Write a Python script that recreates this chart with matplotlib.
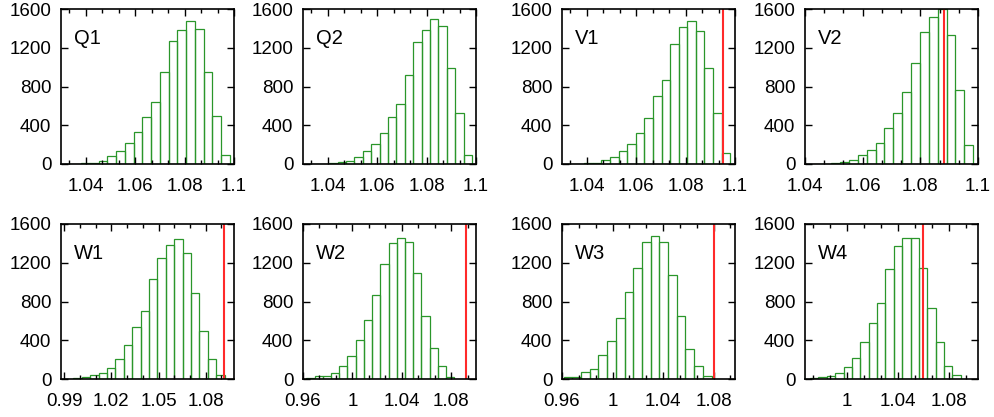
import numpy as np
import matplotlib.pyplot as plt
from matplotlib.ticker import FixedLocator, AutoMinorLocator, FormatStrFormatter

plt.rcParams['font.family'] = ['Liberation Sans', 'DejaVu Sans']
plt.rcParams['font.size'] = 13

# counts per bin, left edge of the first bin, bin width
q1_counts = [2, 3, 8, 12, 34, 79, 131, 217, 327, 485, 640, 950, 1266, 1386, 1479, 1393, 949, 492, 96]
q1_start, q1_width = 1.0311, 0.00354
q2_counts = [1, 2, 3, 7, 20, 34, 76, 138, 206, 320, 482, 619, 915, 1256, 1386, 1496, 1428, 991, 526, 96]
q2_start, q2_width = 1.0304, 0.0034
v1_counts = [1, 3, 7, 14, 41, 72, 131, 206, 320, 475, 698, 870, 1238, 1410, 1479, 1369, 991, 526, 113]
v1_start, v1_width = 1.0321, 0.00347
v2_counts = [1, 3, 7, 17, 41, 89, 141, 217, 371, 526, 743, 1042, 1362, 1517, 1600, 1328, 760, 193]
v2_start, v2_width = 1.0429, 0.00308
w1_counts = [3, 10, 21, 41, 62, 113, 206, 354, 532, 697, 1030, 1245, 1383, 1441, 1297, 885, 491, 206, 45]
w1_start, w1_width = 0.9906, 0.00534
w2_counts = [10, 27, 34, 62, 130, 240, 398, 611, 864, 1187, 1407, 1451, 1410, 1092, 655, 319, 137, 21]
w2_start, w2_width = 0.9628, 0.00664
w3_counts = [25, 22, 69, 106, 250, 388, 628, 903, 1143, 1418, 1476, 1410, 1074, 652, 309, 137, 27]
w3_start, w3_width = 0.9613, 0.00689
w4_counts = [10, 21, 27, 62, 124, 216, 381, 577, 783, 1133, 1373, 1451, 1451, 1143, 738, 381, 137, 38]
w4_start, w4_width = 0.971, 0.00656

# reference values (red lines)
v1_ref = 1.095
v2_ref = 1.0881
w1_ref = 1.0914
w2_ref = 1.0916
w3_ref = 1.0805
w4_ref = 1.0597

# axis ranges and tick labels
q_xlim = (1.03, 1.1)
q_ticks = [1.04, 1.06, 1.08, 1.1]
v2_xlim = (1.04, 1.1)
w1_xlim = (0.988, 1.098)
w1_ticks = [0.99, 1.02, 1.05, 1.08]
w2_xlim = (0.96, 1.1)
w3_xlim = (0.96, 1.097)
w_ticks = [0.96, 1.0, 1.04, 1.08]
w4_xlim = (0.967, 1.1025)
y_ticks = [0, 400, 800, 1200, 1600]

green = '#2a962a'
red = '#ff2a2a'

W, H = 995, 417
fig = plt.figure(figsize=(W / 100, H / 100), dpi=100)
col_left = [61, 303, 562, 805]
row_top = [9, 224]


def histo(row, col, name, counts, start, width, xlim, ticks, ref=None):
    ax = fig.add_axes([col_left[col] / W, 1 - (row_top[row] + 155) / H, 173 / W, 155 / H])
    edges = start + width * np.arange(len(counts))
    ax.bar(edges, counts, width=width, align='edge', fill=False,
           edgecolor=green, linewidth=0.9)
    if ref is not None:
        ax.axvline(ref, color=red, lw=1.5)
    ax.set_xlim(*xlim)
    ax.set_ylim(0, 1600)
    ax.xaxis.set_major_locator(FixedLocator(ticks))
    ax.xaxis.set_major_formatter(FormatStrFormatter('%g'))
    ax.xaxis.set_minor_locator(AutoMinorLocator(3))
    ax.set_yticks(y_ticks)
    ax.tick_params(which='both', direction='in', top=True, right=True, width=1, labelsize=13.5)
    ax.tick_params(which='major', length=5)
    ax.tick_params(which='minor', length=3)
    ax.tick_params(axis='x', pad=10)
    ax.tick_params(axis='y', pad=7)
    for s in ax.spines.values():
        s.set_linewidth(1.2)
    ax.text(0.075, 0.81, name, transform=ax.transAxes, fontsize=14.5, va='center')
    return ax


histo(0, 0, 'Q1', q1_counts, q1_start, q1_width, q_xlim, q_ticks)
histo(0, 1, 'Q2', q2_counts, q2_start, q2_width, q_xlim, q_ticks)
histo(0, 2, 'V1', v1_counts, v1_start, v1_width, q_xlim, q_ticks, v1_ref)
histo(0, 3, 'V2', v2_counts, v2_start, v2_width, v2_xlim, q_ticks, v2_ref)
histo(1, 0, 'W1', w1_counts, w1_start, w1_width, w1_xlim, w1_ticks, w1_ref)
histo(1, 1, 'W2', w2_counts, w2_start, w2_width, w2_xlim, w_ticks, w2_ref)
histo(1, 2, 'W3', w3_counts, w3_start, w3_width, w3_xlim, w_ticks, w3_ref)
histo(1, 3, 'W4', w4_counts, w4_start, w4_width, w4_xlim, w_ticks, w4_ref)

fig.savefig('out.png', dpi=100)
